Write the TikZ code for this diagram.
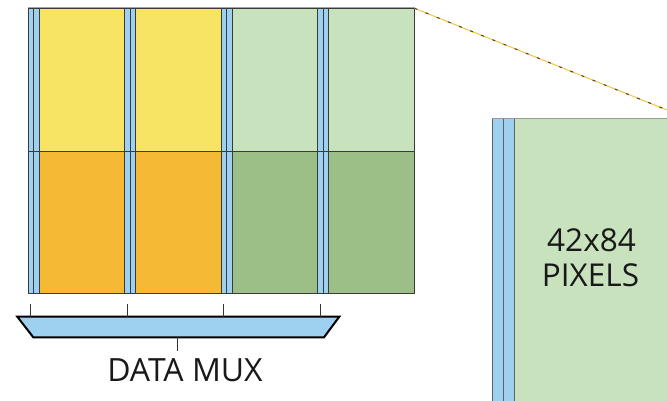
\documentclass[tikz,border=0pt]{standalone}
\usepackage{fontspec}
\newfontfamily\lblfont{Open Sans}
\definecolor{ylw}{HTML}{F7E463}
\definecolor{orng}{HTML}{F5B935}
\definecolor{lgrn}{HTML}{C8E2BD}
\definecolor{mgrn}{HTML}{9CBF87}
\definecolor{blu}{HTML}{9ED0EF}
\definecolor{edge}{HTML}{3A3A3A}
\definecolor{dashy}{HTML}{F5C242}
\tikzset{
  cellline/.style={draw=edge, line width=0.8pt},
  tickline/.style={draw=black!80, line width=0.6pt},
  muxbox/.style={draw=black, line width=2pt, fill=blu, line join=miter},
  lbl/.style={font=\lblfont\fontsize{31.5}{34}\selectfont, text=black!90, inner sep=0pt},
  muxlbl/.style={font=\lblfont\fontsize{32}{34}\selectfont, text=black!90, inner sep=0pt}
}
\begin{document}
\begin{tikzpicture}[x=1pt,y=-1pt]
\useasboundingbox (0,0) rectangle (667,401);
% grid of columns
\foreach \i/\top/\bot in {0/ylw/orng,1/ylw/orng,2/lgrn/mgrn,3/lgrn/mgrn}{
  \pgfmathsetmacro{\xa}{28+96.5*\i}
  \pgfmathsetmacro{\xb}{\xa+5.5}
  \pgfmathsetmacro{\xc}{\xa+11}
  \pgfmathsetmacro{\xd}{\xa+96.5}
  \fill[blu] (\xa,8) rectangle (\xc,293.3);
  \fill[\top] (\xc,8) rectangle (\xd,151.3);
  \fill[\bot] (\xc,151.3) rectangle (\xd,293.3);
  \draw[cellline] (\xa,8) -- (\xa,293.3);
  \draw[cellline] (\xb,8) -- (\xb,293.3);
  \draw[cellline] (\xc,8) -- (\xc,293.3);
  \coordinate (t\i) at (\xa+2.5,304);
  \coordinate (b\i) at (\xa+2.5,316.7);
}
\draw[cellline] (28,8) rectangle (414.5,293.3);
\draw[cellline] (28,151.3) -- (414.5,151.3);
\draw[draw=black!35, line width=1pt] (28,8) -- (414.5,8);
% mux
\node[muxbox, shape=coordinate] (mux) at (178,327) {};
\draw[muxbox] (17.3,316.7) -- (339.3,316.7) -- (324,337.3) -- (33.3,337.3) -- cycle;
\foreach \i in {0,1,2,3}{ \draw[tickline] (t\i) -- (b\i); }
\coordinate (muxbot) at (177.3,337.3);
\node[muxlbl, anchor=base] (muxlabel) at (185,381.7) {DATA MUX};
\coordinate (lbltop) at (177.3,350.7);
\draw[tickline] (muxbot) -- (lbltop);
% zoom line
\coordinate (zs) at (414.5,8.3);
\coordinate (ze) at (667,110);
\draw[dashy, line width=1pt] (zs) -- (ze);
\draw[black!75, line width=1pt, dash pattern=on 3pt off 9pt] (zs) -- (ze);
% right panel
\fill[blu] (492.3,118.3) rectangle (514.3,402);
\fill[lgrn] (514.3,118.3) rectangle (668,402);
\draw[draw=edge!80, line width=0.9pt] (492.3,402) -- (492.3,118.3) -- (668,118.3);
\draw[draw=edge!80, line width=0.9pt] (503.3,118.3) -- (503.3,402);
\draw[draw=edge!80, line width=0.9pt] (514.3,118.3) -- (514.3,402);
\draw[draw=black!40, line width=1pt] (492.3,118.3) -- (668,118.3);
\node[lbl, anchor=base] (pxa) at (591.5,251.7) {42x84};
\node[lbl, anchor=base] (pxb) at (590.5,286.7) {PIXELS};
\end{tikzpicture}
\end{document}
